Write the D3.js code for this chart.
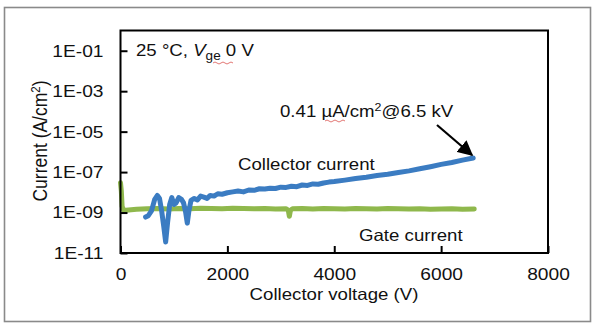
<!DOCTYPE html>
<html><head><meta charset="utf-8">
<script src="https://cdn.jsdelivr.net/npm/d3@7"></script>
<style>
html,body{margin:0;padding:0;background:#fff;}
svg text{font-family:"Liberation Sans",Arial,sans-serif;fill:#111;}
</style></head>
<body><svg id="c" width="600" height="327"></svg>
<script>
// ---- data ----
const collectorVoltage = [470,520,580,640,690,730,770,810,845,880,920,960,1000,1040,1090,1140,1180,1220,1250,1280,1320,1380,1440,1500,1560,1620,1680,1750,1820,1900,2000,2100,2200,2300,2400,2500,2600,2700,2800,2900,3000,3100,3200,3300,3400,3500,3600,3700,3800,3900,4000,4200,4400,4600,4800,5000,5200,5400,5600,5800,6000,6200,6400,6600];
const collectorCurrent = [6e-10,7e-10,1.2e-9,4.5e-9,7e-9,5e-9,1.2e-9,2e-10,3.5e-11,3e-10,2.5e-9,5.5e-9,2.5e-9,3e-9,5.5e-9,4.5e-9,3e-9,1e-9,3e-10,1.2e-9,4e-9,5e-9,4.2e-9,6.5e-9,5.8e-9,5e-9,7e-9,6.5e-9,8.5e-9,8e-9,9.5e-9,1.05e-8,1.15e-8,1.05e-8,1.3e-8,1.25e-8,1.5e-8,1.45e-8,1.6e-8,1.55e-8,1.8e-8,1.75e-8,2e-8,1.9e-8,2.3e-8,2.2e-8,2.6e-8,2.5e-8,2.9e-8,3.2e-8,3.4e-8,4e-8,4.8e-8,5.6e-8,6.8e-8,7.8e-8,9.5e-8,1.15e-7,1.45e-7,1.85e-7,2.4e-7,3e-7,3.9e-7,5e-7];
const gateVoltage = [0,15,30,60,150,300,500,700,900,1100,1300,1500,1700,1900,2100,2300,2500,2700,2900,3100,3140,3160,3180,3220,3400,3600,3800,4000,4200,4400,4600,4800,5000,5200,5400,5600,5800,6000,6200,6400,6620];
const gateCurrent = [3e-8,1.2e-8,2e-9,1.25e-9,1.35e-9,1.45e-9,1.55e-9,1.6e-9,1.5e-9,1.6e-9,1.55e-9,1.65e-9,1.6e-9,1.55e-9,1.65e-9,1.6e-9,1.55e-9,1.6e-9,1.5e-9,1.55e-9,1.3e-9,6.5e-10,1.3e-9,1.55e-9,1.6e-9,1.5e-9,1.6e-9,1.55e-9,1.5e-9,1.6e-9,1.55e-9,1.5e-9,1.6e-9,1.55e-9,1.5e-9,1.55e-9,1.45e-9,1.5e-9,1.55e-9,1.45e-9,1.5e-9];
const xTicks = [0,2000,4000,6000,8000];
const yTicks = [1e-11,1e-9,1e-7,1e-5,1e-3,1e-1];
const yTickLabels = ["1E-11","1E-09","1E-07","1E-05","1E-03","1E-01"];

// ---- layout ----
const svg = d3.select("#c");
const L = 120.5, R = 548, T = 30.5, B = 253;
const K = 1.13, FS = 16.5;
const x = d3.scaleLinear().domain([0,8000]).range([L,R]);
const y = d3.scaleLog().domain([1e-11,1]).range([B,T]);

// outer frame
svg.append("rect").attr("x",4.5).attr("y",7.5).attr("width",586).attr("height",314)
  .attr("fill","#fff").attr("stroke","#8a8a8a").attr("stroke-width",1.6);

// series
const line = d3.line().x(d=>x(d[0])).y(d=>y(d[1]));
svg.append("path").datum(gateVoltage.map((v,i)=>[v,gateCurrent[i]]))
  .attr("d",line).attr("fill","none").attr("stroke","#8fb84c").attr("stroke-width",5)
  .attr("stroke-linejoin","round").attr("stroke-linecap","round");
svg.append("path").datum(collectorVoltage.map((v,i)=>[v,collectorCurrent[i]]))
  .attr("d",line).attr("fill","none").attr("stroke","#3b7cc2").attr("stroke-width",5)
  .attr("stroke-linejoin","round").attr("stroke-linecap","round");

// axes
const yAxis = d3.axisLeft(y).tickValues(yTicks).tickFormat((d,i)=>yTickLabels[i])
  .tickSizeInner(-7).tickSizeOuter(0).tickPadding(15);
const gy = svg.append("g").attr("transform",`translate(${L},0)`).call(yAxis);
const xAxis = d3.axisBottom(x).tickValues(xTicks).tickFormat(d3.format("d"))
  .tickSizeInner(-7).tickSizeOuter(0).tickPadding(15);
const gx = svg.append("g").attr("transform",`translate(0,${B})`).call(xAxis);
[gx,gy].forEach(g=>{
  g.selectAll("path.domain").remove();
  g.selectAll(".tick line").attr("stroke","#000").attr("stroke-width",2);
  g.selectAll("text").attr("font-size",FS+0.5).attr("fill","#111")
   .attr("transform",`scale(${K},1)`)
   .style("font-family",'"Liberation Sans",Arial,sans-serif');
});
// plot frame
svg.append("rect").attr("x",L).attr("y",T).attr("width",R-L).attr("height",B-T)
  .attr("fill","none").attr("stroke","#000").attr("stroke-width",2);

function txt(px,py,size){
  return svg.append("text").attr("transform",`translate(${px},${py}) scale(${K},1)`)
    .attr("font-size",size||FS);
}

// axis titles
svg.append("text").attr("transform",`translate(47,141) scale(${K},1) rotate(-90)`)
  .attr("text-anchor","middle").attr("font-size",17.5)
  .html('Current (A/cm<tspan baseline-shift="super" font-size="11.5">2</tspan>)');
txt(334,300).attr("text-anchor","middle").text("Collector voltage (V)");

// annotations
const t1 = txt(136,56);
t1.append("tspan").text("25 °C, ");
t1.append("tspan").attr("font-style","italic").text("V");
t1.append("tspan").attr("font-size",12).attr("dy",4).text("ge");
t1.append("tspan").attr("dy",-4).text(" 0 V");
svg.append("path").attr("d","M213,63 q2,-2 4,0 t4,0 t4,0 t4,0 t4,0")
  .attr("fill","none").attr("stroke","#d9534f").attr("stroke-width",0.8);

txt(280,117).html('0.41 µA/cm<tspan baseline-shift="super" font-size="11">2</tspan>@6.5 kV');
svg.append("path").attr("d","M325,121 q2,-2 4,0 t4,0 t4,0 t4,0 t4,0")
  .attr("fill","none").attr("stroke","#d9534f").attr("stroke-width",0.8);

txt(238,170).text("Collector current");
txt(359,241).text("Gate current");

// arrow
svg.append("defs").append("marker").attr("id","ah").attr("viewBox","0 0 10 10")
  .attr("refX",9).attr("refY",5).attr("markerWidth",7).attr("markerHeight",7)
  .attr("orient","auto").append("path").attr("d","M0,0 L10,5 L0,10 z").attr("fill","#000");
svg.append("line").attr("x1",437).attr("y1",125).attr("x2",472).attr("y2",155)
  .attr("stroke","#000").attr("stroke-width",2.2).attr("marker-end","url(#ah)");
</script></body></html>
